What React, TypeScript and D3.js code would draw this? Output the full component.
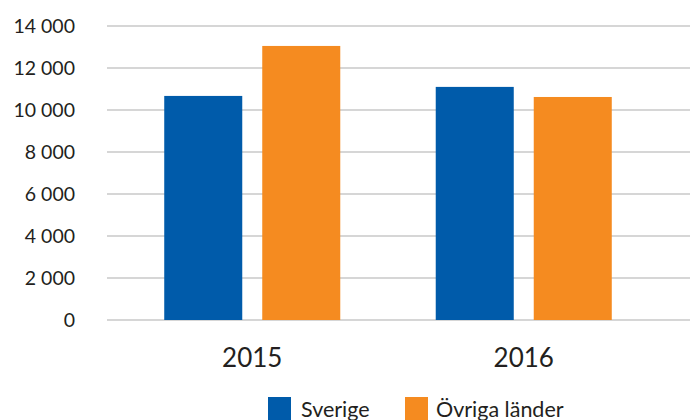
import React, { useEffect } from "react";
import * as d3 from "d3";

const years = ["2015", "2016"];
const series = ["Sverige", "Övriga länder"];
const sverige = [10670, 11100];
const ovriga = [13050, 10620];
const yTicks = [0, 2000, 4000, 6000, 8000, 10000, 12000, 14000];
const colors = ["#005baa", "#f58b20"];

const W = 690;
const H = 420;
const font = "'Lato', 'DejaVu Sans', sans-serif";
const textColor = "#231f20";

const fmt = (v: number) => (v >= 1000 ? `${Math.floor(v / 1000)} ${String(v % 1000).padStart(3, "0")}` : String(v));

export default function App() {
  useEffect(() => {
    document.body.style.margin = "0";
  }, []);

  const y = d3.scaleLinear().domain([0, 14000]).range([320, 26]);
  const x0 = d3.scaleBand<string>().domain(years).range([116.5, 659.5]).padding(0);
  const x1 = d3
    .scaleBand<string>()
    .domain(series)
    .range([0, x0.bandwidth()])
    .paddingInner(0.204)
    .paddingOuter(0.487);

  const values = [sverige, ovriga];

  return (
    <svg width={W} height={H} style={{ display: "block", background: "#fff" }}>
      {yTicks.map((t) => (
        <g key={t}>
          <line x1={107} x2={W} y1={y(t)} y2={y(t)} stroke="#c9c9c9" strokeWidth={1.6} />
          <text
            x={75}
            y={y(t)}
            dy="0.36em"
            textAnchor="end"
            fontFamily={font}
            fontSize={19.5}
            fill={textColor}
          >
            {fmt(t)}
          </text>
        </g>
      ))}
      {years.map((yr, i) => (
        <g key={yr} transform={`translate(${x0(yr)},0)`}>
          {series.map((s, j) => (
            <rect
              key={s}
              x={x1(s)}
              y={y(values[j][i])}
              width={x1.bandwidth()}
              height={y(0) - y(values[j][i])}
              fill={colors[j]}
            />
          ))}
          <text
            x={x0.bandwidth() / 2}
            y={367}
            textAnchor="middle"
            fontFamily={font}
            fontSize={26}
            fill={textColor}
          >
            {yr}
          </text>
        </g>
      ))}
      <g>
        <rect x={268} y={397} width={23} height={23} fill={colors[0]} />
        <text x={301} y={417} fontFamily={font} fontSize={21.5} fill={textColor}>
          {series[0]}
        </text>
        <rect x={405} y={397} width={23} height={23} fill={colors[1]} />
        <text x={436} y={417} fontFamily={font} fontSize={21.5} fill={textColor}>
          {series[1]}
        </text>
      </g>
    </svg>
  );
}
